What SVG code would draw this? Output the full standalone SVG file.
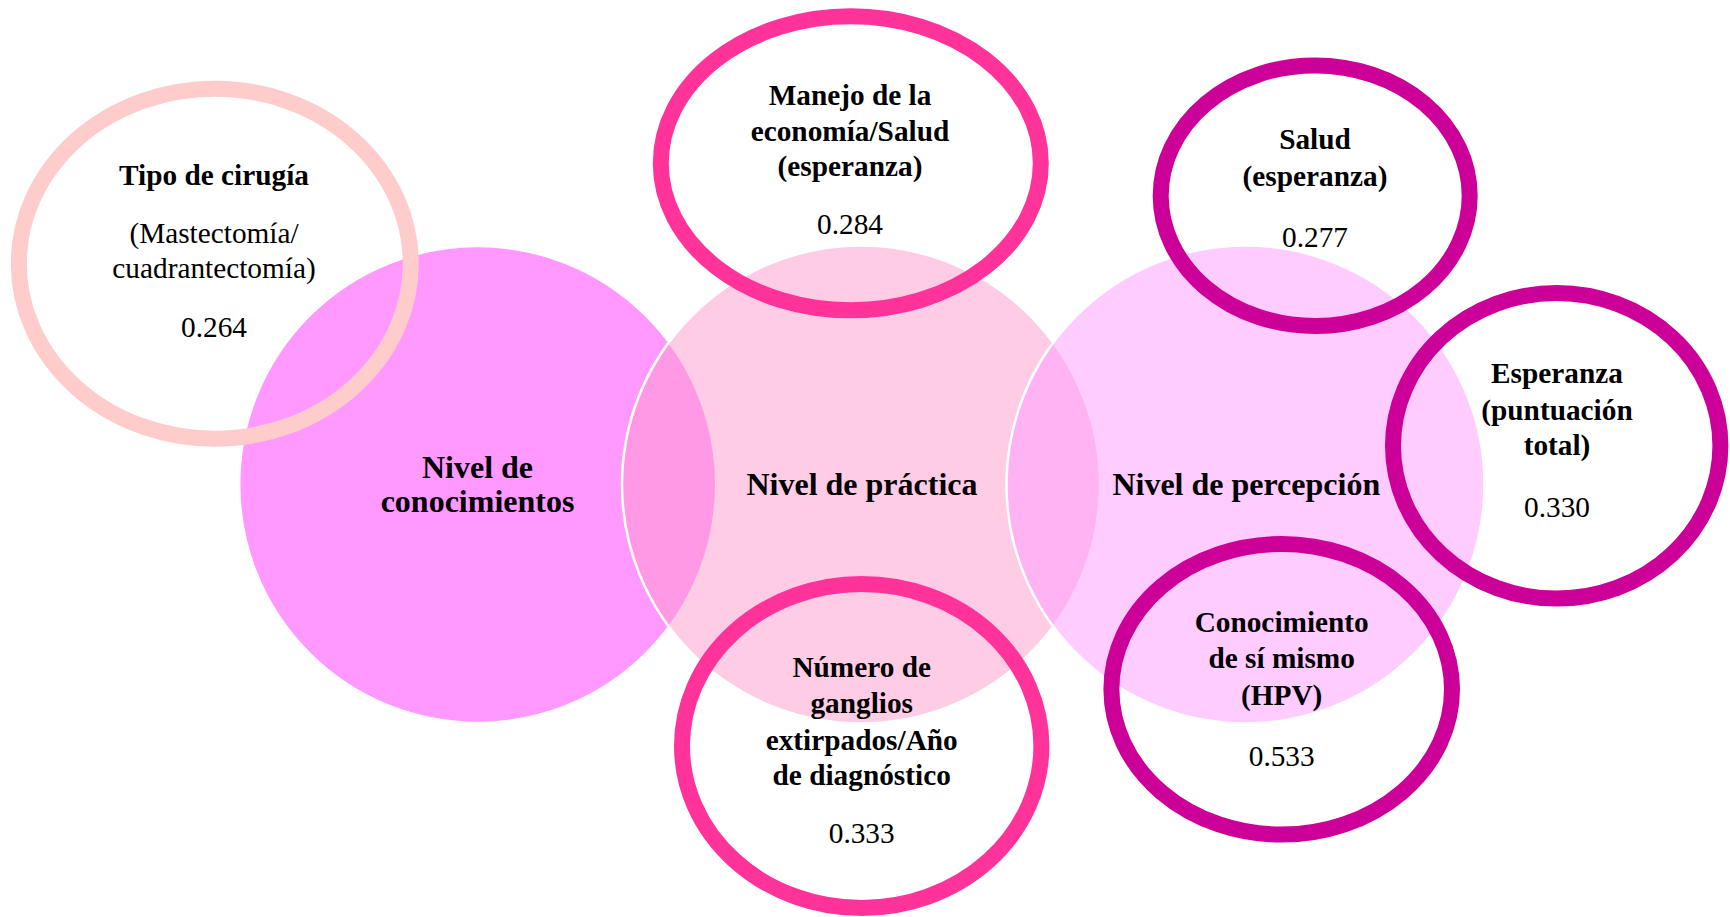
<svg xmlns="http://www.w3.org/2000/svg" width="1730" height="917" viewBox="0 0 1730 917">
<style>
text{font-family:"Liberation Serif","Times New Roman",serif;fill:#000;text-anchor:middle}
.b{font-weight:bold;font-size:29.3px}
.r{font-size:29.3px}
.big{font-weight:bold;font-size:32px}
.ring{fill:none;stroke-width:16}
.c1{stroke:#FFCCCC}
.c2{stroke:#FF3399}
.c3{stroke:#CC0099}
.venn{stroke:#FFFFFF;stroke-width:2.5}
</style>
<rect x="0" y="0" width="1730" height="917" fill="#FFFFFF"/>
<g id="nivel-conocimientos">
<circle class="venn" cx="477.7" cy="484.5" r="238.5" fill="#FF99FF"/>
<text class="big" x="477.5" y="477.5">Nivel de</text>
<text class="big" x="477.5" y="512">conocimientos</text>
</g>
<g id="nivel-practica">
<circle class="venn" cx="861" cy="484.5" r="239" fill="#FF99CC" fill-opacity="0.5"/>
<text class="big" x="862" y="495">Nivel de práctica</text>
</g>
<g id="nivel-percepcion">
<circle class="venn" cx="1245.5" cy="484.5" r="239" fill="#FF99FF" fill-opacity="0.5"/>
<text class="big" x="1246.3" y="495">Nivel de percepción</text>
</g>
<g id="tipo-cirugia">
<ellipse class="ring c1" cx="214.8" cy="263.7" rx="196" ry="175"/>
<text class="b" x="214" y="185">Tipo de cirugía</text>
<text class="r" x="214" y="242.7">(Mastectomía/</text>
<text class="r" x="214" y="278.3">cuadrantectomía)</text>
<text class="r" x="214" y="336.7">0.264</text>
</g>
<g id="manejo-economia">
<ellipse class="ring c2" cx="850.8" cy="163.3" rx="190" ry="147"/>
<text class="b" x="850" y="105">Manejo de la</text>
<text class="b" x="850" y="140.7">economía/Salud</text>
<text class="b" x="850" y="176">(esperanza)</text>
<text class="r" x="850" y="234.3">0.284</text>
</g>
<g id="salud-esperanza">
<ellipse class="ring c3" cx="1315.2" cy="195.7" rx="154.5" ry="130.3"/>
<text class="b" x="1315" y="149.3">Salud</text>
<text class="b" x="1315" y="186">(esperanza)</text>
<text class="r" x="1315" y="246.7">0.277</text>
</g>
<g id="esperanza-total">
<ellipse class="ring c3" cx="1556.7" cy="445.8" rx="163.7" ry="152.8"/>
<text class="b" x="1557" y="382.7">Esperanza</text>
<text class="b" x="1557" y="420">(puntuación</text>
<text class="b" x="1557" y="455">total)</text>
<text class="r" x="1557" y="516.7">0.330</text>
</g>
<g id="numero-ganglios">
<ellipse class="ring c2" cx="861.7" cy="746" rx="179.7" ry="162"/>
<text class="b" x="861.7" y="676.7">Número de</text>
<text class="b" x="861.7" y="712.7">ganglios</text>
<text class="b" x="861.7" y="750">extirpados/Año</text>
<text class="b" x="861.7" y="785">de diagnóstico</text>
<text class="r" x="861.7" y="843.3">0.333</text>
</g>
<g id="conocimiento-si-mismo">
<ellipse class="ring c3" cx="1281.7" cy="689.3" rx="170.3" ry="145.3"/>
<text class="b" x="1281.7" y="631.7">Conocimiento</text>
<text class="b" x="1281.7" y="668.3">de sí mismo</text>
<text class="b" x="1281.7" y="705">(HPV)</text>
<text class="r" x="1281.7" y="766">0.533</text>
</g>
</svg>
